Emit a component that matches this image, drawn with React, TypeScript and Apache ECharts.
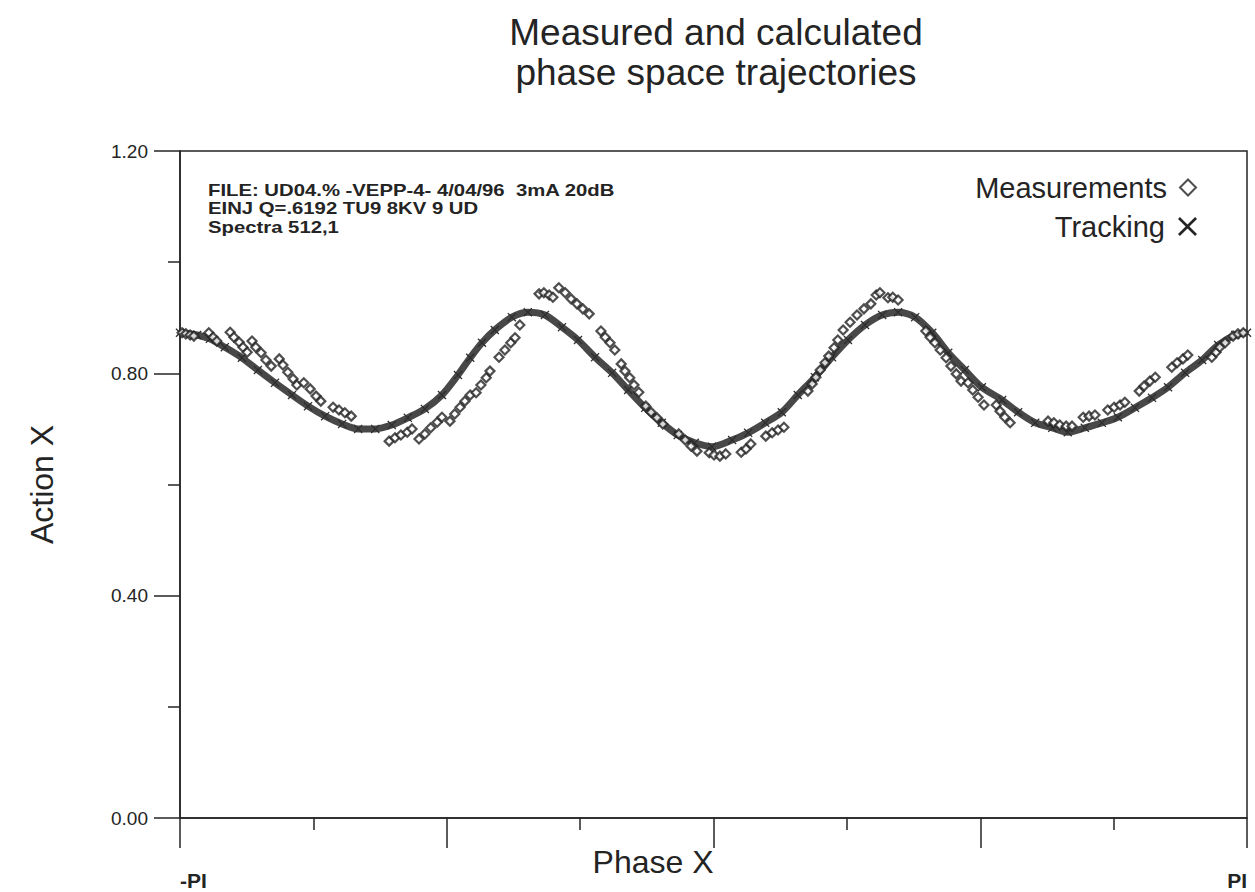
import React, { useEffect, useRef } from "react";
import * as echarts from "echarts";

// Phase X in units of PI (-1 = -PI, 1 = PI); Action X values
const trackPhase = [-1, -0.968, -0.944, -0.916, -0.884, -0.854, -0.822, -0.79, -0.76, -0.728, -0.696, -0.666, -0.634, -0.603, -0.573, -0.541, -0.509, -0.479, -0.456, -0.434, -0.41, -0.378, -0.348, -0.316, -0.284, -0.254, -0.222, -0.19, -0.16, -0.128, -0.097, -0.067, -0.035, -0.003, 0.035, 0.065, 0.097, 0.128, 0.158, 0.19, 0.222, 0.252, 0.284, 0.316, 0.346, 0.378, 0.41, 0.44, 0.471, 0.503, 0.541, 0.571, 0.603, 0.635, 0.664, 0.696, 0.728, 0.758, 0.79, 0.822, 0.852, 0.884, 0.916, 0.946, 0.978, 1.0];
const trackAction = [0.873, 0.869, 0.862, 0.847, 0.828, 0.806, 0.783, 0.761, 0.741, 0.723, 0.709, 0.7, 0.7, 0.707, 0.72, 0.736, 0.761, 0.797, 0.828, 0.855, 0.878, 0.901, 0.91, 0.905, 0.883, 0.86, 0.829, 0.801, 0.77, 0.738, 0.711, 0.689, 0.675, 0.668, 0.68, 0.693, 0.711, 0.73, 0.761, 0.793, 0.829, 0.86, 0.887, 0.905, 0.91, 0.901, 0.873, 0.837, 0.806, 0.775, 0.752, 0.73, 0.711, 0.702, 0.694, 0.702, 0.711, 0.721, 0.738, 0.756, 0.775, 0.801, 0.824, 0.851, 0.869, 0.873];

const measPhase = [
  -0.996, -0.989, -0.981, -0.974, -0.946, -0.938, -0.931,
  -0.906, -0.899, -0.889, -0.882, -0.874,
  -0.865, -0.858, -0.848, -0.839, -0.829,
  -0.814, -0.807, -0.798, -0.788, -0.781,
  -0.768, -0.756, -0.745, -0.736,
  -0.713, -0.702, -0.691, -0.679,
  -0.608, -0.597, -0.586, -0.574, -0.565,
  -0.552, -0.541, -0.53, -0.518, -0.509,
  -0.494, -0.485, -0.475, -0.466, -0.456,
  -0.445, -0.436, -0.426, -0.419,
  -0.402, -0.391, -0.38, -0.372, -0.363,
  -0.327, -0.318, -0.308, -0.301,
  -0.29, -0.278, -0.267, -0.256, -0.245, -0.233,
  -0.211, -0.203, -0.194, -0.185,
  -0.173, -0.166, -0.157, -0.149, -0.14,
  -0.127, -0.117, -0.106, -0.095,
  -0.065, -0.053, -0.042, -0.031,
  -0.008, 0.001, 0.012, 0.023,
  0.052, 0.061, 0.07,
  0.098, 0.11, 0.121, 0.132,
  0.177, 0.185, 0.192, 0.2, 0.209, 0.216, 0.226, 0.233,
  0.243, 0.256, 0.269, 0.282, 0.295, 0.305, 0.312,
  0.327, 0.336, 0.346,
  0.398, 0.406, 0.415, 0.425,
  0.436, 0.445, 0.455, 0.464,
  0.477, 0.486, 0.496, 0.507,
  0.53, 0.537, 0.546, 0.556,
  0.627, 0.638, 0.649, 0.661, 0.672,
  0.693, 0.704, 0.715,
  0.739, 0.751, 0.762, 0.771,
  0.798, 0.807, 0.818, 0.828,
  0.859, 0.869, 0.88, 0.889,
  0.934, 0.942, 0.949, 0.959,
  0.974, 0.983, 0.993,
];
const measAction = [
  0.873, 0.871, 0.869, 0.867, 0.873, 0.865, 0.858,
  0.874, 0.865, 0.856, 0.847, 0.838,
  0.858, 0.847, 0.837, 0.824, 0.813,
  0.826, 0.815, 0.802, 0.79, 0.779,
  0.783, 0.772, 0.759, 0.75,
  0.739, 0.734, 0.729, 0.723,
  0.678, 0.684, 0.689, 0.694, 0.7,
  0.682, 0.691, 0.702, 0.712, 0.721,
  0.714, 0.727, 0.739, 0.75, 0.761,
  0.765, 0.779, 0.792, 0.804,
  0.829, 0.842, 0.855, 0.864, 0.887,
  0.943, 0.945, 0.941, 0.937,
  0.954, 0.945, 0.934, 0.925, 0.916, 0.907,
  0.876, 0.865, 0.855, 0.842,
  0.817, 0.804, 0.792, 0.779, 0.766,
  0.741, 0.73, 0.72, 0.709,
  0.691, 0.68, 0.669, 0.66,
  0.657, 0.653, 0.651, 0.655,
  0.658, 0.664, 0.673,
  0.687, 0.693, 0.698, 0.703,
  0.768, 0.781, 0.793, 0.806, 0.819, 0.831, 0.846, 0.86,
  0.878, 0.892, 0.905, 0.916, 0.925, 0.941, 0.945,
  0.936, 0.937, 0.932,
  0.876, 0.865, 0.855, 0.842,
  0.828, 0.813, 0.799, 0.786,
  0.783, 0.77, 0.757, 0.743,
  0.743, 0.732, 0.721, 0.711,
  0.714, 0.711, 0.707, 0.705, 0.705,
  0.721, 0.723, 0.725,
  0.734, 0.739, 0.743, 0.748,
  0.768, 0.777, 0.786, 0.793,
  0.811, 0.819, 0.826, 0.833,
  0.829, 0.838, 0.847, 0.855,
  0.867, 0.871, 0.873,
];

const xTickNames: Record<string, string> = { "-1": "-PI", "1": "PI" };
const titleLines = ["Measured and calculated", "phase space trajectories"];
const infoLines = [
  "FILE: UD04.% -VEPP-4- 4/04/96  3mA 20dB",
  "EINJ Q=.6192 TU9 8KV 9 UD",
  "Spectra 512,1",
];
const seriesNames = ["Measurements", "Tracking"];

const CROSS = "path://M0,1L1,0L5,4L9,0L10,1L6,5L10,9L9,10L5,6L1,10L0,9L4,5Z";
const FONT = "'Liberation Sans', Arial, Helvetica, sans-serif";
const INK = "#242424";

export default function App() {
  const ref = useRef<HTMLDivElement>(null);
  useEffect(() => {
    if (!ref.current) return;
    const chart = echarts.init(ref.current, undefined, { renderer: "svg" });
    const track = trackPhase.map((p, i) => [p, trackAction[i]]);
    const meas = measPhase.map((p, i) => [p, measAction[i]]);
    const legendText = { fontFamily: FONT, fontSize: 29, color: INK };
    chart.setOption({
      animation: false,
      backgroundColor: "#ffffff",
      title: {
        text: titleLines.join("\n"),
        left: 716,
        textAlign: "center",
        top: 12,
        padding: 0,
        textStyle: { fontFamily: FONT, fontSize: 37, fontWeight: "normal", color: INK, lineHeight: 40 },
      },
      legend: [
        {
          data: [{ name: seriesNames[0], icon: "diamond" }],
          right: 58,
          top: 173,
          padding: 0,
          align: "right",
          itemWidth: 16,
          itemHeight: 16,
          formatter: "{name} ",
          textStyle: legendText,
          selectedMode: false,
        },
        {
          data: [{ name: seriesNames[1], icon: CROSS, itemStyle: { color: INK, borderWidth: 0 } }],
          right: 58,
          top: 212,
          padding: 0,
          align: "right",
          itemWidth: 19,
          itemHeight: 19,
          formatter: "{name} ",
          textStyle: legendText,
          selectedMode: false,
        },
      ],
      grid: {
        left: 180,
        right: 8,
        top: 151,
        bottom: 74,
        outerBoundsMode: "none",
        containLabel: false,
        show: true,
        borderColor: INK,
        borderWidth: 1.5,
        backgroundColor: "transparent",
      },
      xAxis: {
        type: "value",
        min: -1,
        max: 1,
        interval: 0.5,
        name: "Phase X",
        nameLocation: "middle",
        nameGap: 28,
        nameMoveOverlap: false,
        nameTextStyle: { fontFamily: FONT, fontSize: 32, color: INK, align: "right" },
        axisLine: { show: true, onZero: false, lineStyle: { color: INK, width: 1.5 } },
        axisTick: { show: true, inside: false, length: 30, lineStyle: { color: INK, width: 1.5 } },
        minorTick: { show: true, splitNumber: 2, length: 12, lineStyle: { color: INK, width: 1.5 } },
        splitLine: { show: false },
        axisLabel: {
          margin: 52,
          fontFamily: FONT,
          fontSize: 21,
          fontWeight: "bold",
          color: INK,
          alignMinLabel: "left",
          alignMaxLabel: "right",
          formatter: (v: number) => xTickNames[String(v)] ?? "",
        },
      },
      yAxis: {
        type: "value",
        min: 0,
        max: 1.2,
        interval: 0.4,
        name: "Action X",
        nameLocation: "middle",
        nameGap: 122,
        nameMoveOverlap: false,
        nameTextStyle: { fontFamily: FONT, fontSize: 32, color: INK },
        axisLine: { show: true, onZero: false, lineStyle: { color: INK, width: 1.5 } },
        axisTick: { show: true, inside: false, length: 26, lineStyle: { color: INK, width: 1.5 } },
        minorTick: { show: true, splitNumber: 2, length: 12, lineStyle: { color: INK, width: 1.5 } },
        splitLine: { show: false },
        axisLabel: {
          margin: 32,
          fontFamily: FONT,
          fontSize: 19,
          color: INK,
          formatter: (v: number) => v.toFixed(2),
        },
      },
      graphic: [
        {
          type: "text",
          x: 208,
          y: 181,
          scaleX: 1.27,
          style: {
            text: infoLines.join("\n"),
            fontFamily: FONT,
            fontSize: 16,
            fontWeight: "bold",
            lineHeight: 18.5,
            fill: INK,
          },
        },
      ],
      series: [
        {
          name: seriesNames[1],
          type: "line",
          data: track,
          smooth: 0.3,
          symbol: CROSS,
          symbolSize: 9,
          showSymbol: true,
          itemStyle: { color: "#2e2e2e" },
          lineStyle: { color: "#484848", width: 7 },
          z: 2,
        },
        {
          name: seriesNames[0],
          type: "scatter",
          data: meas,
          symbol: "diamond",
          symbolSize: 9,
          itemStyle: { color: "#ffffff", borderColor: "#222222", borderWidth: 2.2 },
          z: 3,
        },
      ],
    });
    return () => chart.dispose();
  }, []);
  return <div ref={ref} style={{ position: "absolute", left: 0, top: 0, width: 1255, height: 892 }} />;
}
